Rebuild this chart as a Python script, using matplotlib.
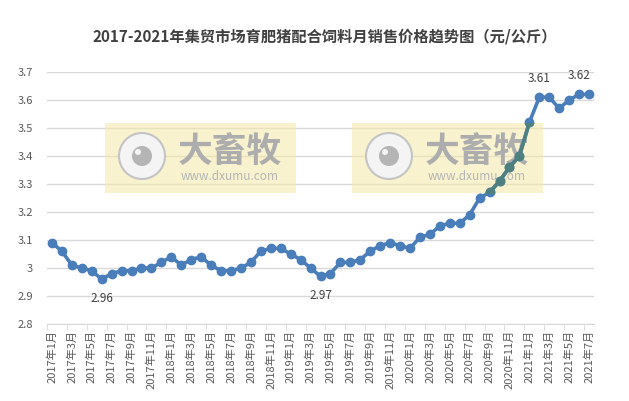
import matplotlib
matplotlib.use('Agg')
import matplotlib.pyplot as plt
from matplotlib.patches import Rectangle, Circle
from matplotlib.transforms import Affine2D

plt.rcParams['font.family'] = ['Noto Sans CJK SC', 'DejaVu Sans']

# monthly price, 2017-01 .. 2021-07
months = [f'{y}年{m}月' for y in range(2017, 2022) for m in range(1, 13)][:55]
price = [3.09, 3.06, 3.01, 3.00, 2.99, 2.96, 2.98, 2.99, 2.99, 3.00, 3.00, 3.02,
         3.04, 3.01, 3.03, 3.04, 3.01, 2.99, 2.99, 3.00, 3.02, 3.06, 3.07, 3.07,
         3.05, 3.03, 3.00, 2.97, 2.98, 3.02, 3.02, 3.03, 3.06, 3.08, 3.09, 3.08,
         3.07, 3.11, 3.12, 3.15, 3.16, 3.16, 3.19, 3.25, 3.27, 3.31, 3.36, 3.40,
         3.52, 3.61, 3.61, 3.57, 3.60, 3.62, 3.62]
# points with value labels: (index, above?)
labelled = [(5, False), (27, False), (49, True), (53, True)]
yticks = [2.8, 2.9, 3.0, 3.1, 3.2, 3.3, 3.4, 3.5, 3.6, 3.7]
ytick_labels = ['2.8', '2.9', '3', '3.1', '3.2', '3.3', '3.4', '3.5', '3.6', '3.7']

W, H = 629, 401
fig = plt.figure(figsize=(W / 100, H / 100), dpi=100)
ax = fig.add_axes([47/W, 77/H, 547/W, 252/H])

# figure pixels, origin top-left
tr = Affine2D().scale(1 / W, -1 / H).translate(0, 1) + fig.transFigure

# watermark boxes, drawn between grid and line
boxes = []
for x0 in [105, 352]:
    r = Rectangle((x0, 123), 191, 70, transform=tr,
                  facecolor='#f3e9a6', alpha=0.55, lw=0, zorder=1)
    ax.add_patch(r)
    boxes.append(r)
    cx, cy = x0 + 37, 156
    ax.add_patch(Circle((cx, cy), 23, transform=tr, facecolor='#f4f4f4',
                        edgecolor='#c4c4c4', lw=1.5, zorder=1.2))
    ax.add_patch(Circle((cx, cy), 10, transform=tr, facecolor='#b5b5b5', lw=0, zorder=1.3))
    ax.add_patch(Circle((cx - 4, cy - 4), 3, transform=tr, facecolor='#f4f4f4', lw=0, zorder=1.4))
    ax.text(x0 + 125, 151, '大畜牧', transform=tr, ha='center', va='center',
            fontsize=25, fontweight='bold', color='#adadad', zorder=1.5)
    ax.text(x0 + 125, 176, 'www.dxumu.com', transform=tr, ha='center',
            va='center', fontsize=8.5, color='#b5b5b5', zorder=1.5)

x = list(range(len(price)))
ax.plot(x, price, color='#4a7ebb', lw=2.6, marker='o', ms=6, zorder=3)
# darker tint of the line where it crosses the watermark boxes
for r in boxes:
    ln, = ax.plot(x, price, color='#4f8080', lw=2.6, marker='o', ms=6, zorder=3.5)
    ln.set_clip_path(r)

for i, above in labelled:
    off = 9 if above else -9
    ax.annotate(f'{price[i]:.2f}', (i, price[i]), xytext=(0, off), textcoords='offset points',
                ha='center', va='bottom' if above else 'top', fontsize=8.5, color='#404040')

ax.set_xlim(-0.5, len(price) - 0.5)
ax.set_ylim(2.8, 3.7)
ax.set_yticks(yticks)
ax.set_yticklabels(ytick_labels)
ax.set_xticks(x[::2])
ax.set_xticklabels(months[::2], rotation=90)
ax.set_xticks([i - 0.5 for i in range(0, len(price) + 1, 2)], minor=True)
ax.tick_params(axis='x', which='major', length=0, labelsize=8, labelcolor='#595959', pad=4)
ax.tick_params(axis='x', which='minor', length=4, color='#d9d9d9')
ax.tick_params(axis='y', length=0, labelsize=8, labelcolor='#595959', pad=10)
ax.grid(axis='y', color='#d9d9d9', lw=1, zorder=0.5)
ax.set_axisbelow(True)
for s in ['left', 'right', 'top']:
    ax.spines[s].set_visible(False)
ax.spines['bottom'].set_color('#d9d9d9')

fig.text(0.517, 0.91, '2017-2021年集贸市场育肥猪配合饲料月销售价格趋势图（元/公斤）',
         ha='center', va='center', fontsize=11, fontweight='bold', color='#404040')

fig.savefig('out.png', dpi=100)
